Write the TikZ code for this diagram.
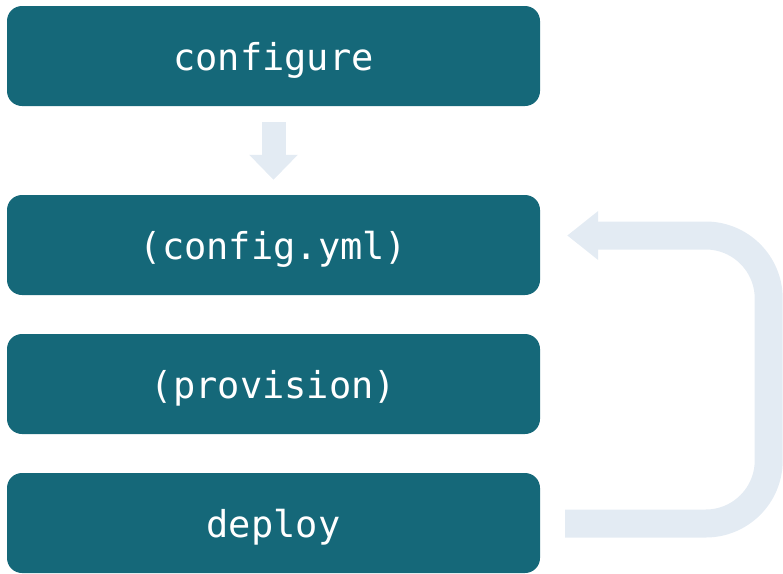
\documentclass[tikz,border=0pt]{standalone}
\usepackage{fontspec}
\setmonofont{DejaVu Sans Mono}
\usetikzlibrary{calc,arrows.meta}
\definecolor{stepteal}{RGB}{21,104,121}
\definecolor{flowpale}{RGB}{227,235,243}
\tikzset{
  stagebox/.style={fill=stepteal, draw=none, rounded corners=15pt,
    minimum width=533pt, minimum height=100pt, inner sep=0pt,
    text=white, font=\ttfamily\fontsize{37}{44}\selectfont,
    text height=28pt, text depth=0pt},
  downflow/.style={draw=flowpale, line width=24pt,
    -{Triangle[width=47pt,length=25pt]}},
  loopflow/.style={draw=flowpale, line width=28pt, rounded corners=63pt,
    -{Triangle[width=47pt,length=31pt]}}
}
\begin{document}
\begin{tikzpicture}[x=1pt,y=-1pt]
  \useasboundingbox (0,0) rectangle (783,573);
  \node[stagebox] (conf) at (273.5,56)  {configure};
  \node[stagebox] (cfg)  at (273.5,245) {(config.yml)};
  \node[stagebox] (prov) at (273.5,384) {(provision)};
  \node[stagebox] (dep)  at (273.5,523) {deploy};
  % straight step down from configure
  \draw[downflow] ($(conf.south)+(0,16)$) -- ($(cfg.north)+(0,-15)$);
  % feedback loop from deploy back to config.yml
  \draw[loopflow] ($(dep.east)+(25,0.5)$) -- ++(203.5,0)
     |- ($(cfg.east)+(27,-9.5)$);
\end{tikzpicture}
\end{document}
